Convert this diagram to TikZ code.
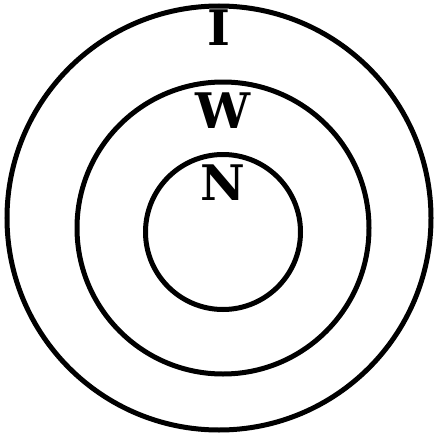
\documentclass[tikz,border=0pt]{standalone}
\usepackage{fontspec}
\setmainfont{DejaVu Serif}
\usetikzlibrary{positioning}

\begin{document}
\begin{tikzpicture}[
  x=1pt, y=-1pt,
  ring/.style={draw, circle, line width=5pt, inner sep=0pt},
  lbl/.style={font=\bfseries\fontsize{49}{49}\selectfont, inner sep=0pt},
]
\useasboundingbox (0,0) rectangle (434,436);

% --- nested rings ---
\node[ring, minimum size=424pt] (outer)  at (219,218) {};
\node[ring, minimum size=292pt] (middle) at (223,228) {};
\node[ring, minimum size=155pt] (inner)  at (223,232) {};

% --- ring labels, just under the top of each ring ---
\node[lbl, below=6.5pt of outer.north]  (I) {I};
\node[lbl, below=13.5pt of middle.north] (W) {W};
\node[lbl, below=13pt of inner.north]   (N) {N};
\end{tikzpicture}
\end{document}
